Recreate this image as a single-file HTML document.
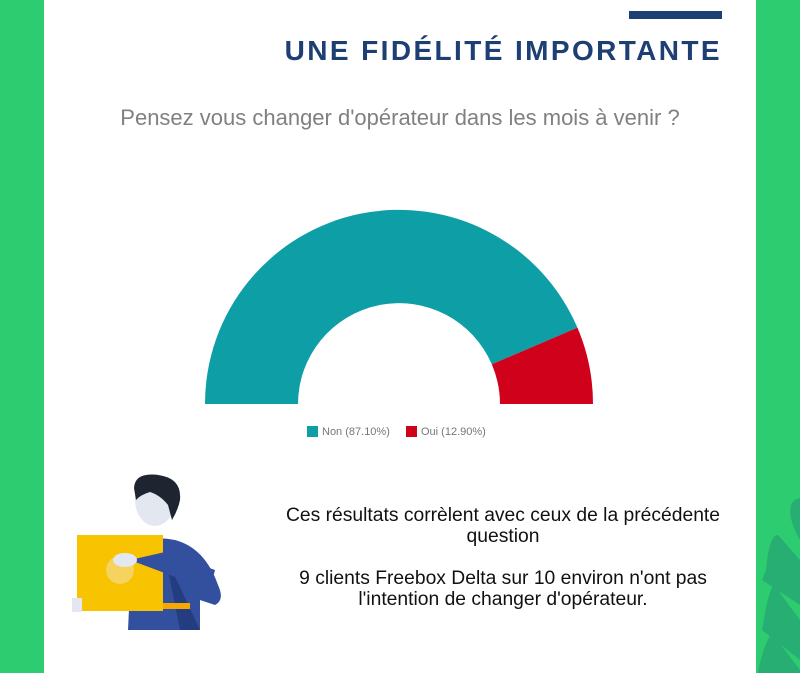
<!DOCTYPE html>
<html><head><meta charset="utf-8"><style>
body{margin:0;width:800px;height:673px;overflow:hidden;background:#fff;font-family:"Liberation Sans",sans-serif;position:relative}
.abs{position:absolute}
</style></head><body>
<div class="abs" style="left:0;top:0;width:44px;height:673px;background:#2ecc71"></div>
<div class="abs" style="left:756px;top:0;width:44px;height:673px;background:#2ecc71"></div>
<svg class="abs" style="left:756px;top:480px" width="44" height="193">
<path d="M44 18 C30 20 32 40 44 60Z M44 80 L22 55 C15 55 12 70 10 90 L6 100 L44 125Z M44 140 L18 105 C12 110 8 140 6 150 L44 180Z M44 190 L16 153 C10 160 4 180 2 193 L44 193Z" fill="#27ae72"/>
</svg>
<div class="abs" style="left:629px;top:11px;width:93px;height:8px;background:#1d3f73"></div>
<div class="abs" style="right:78px;top:35px;font-size:28px;font-weight:bold;color:#1d3f73;letter-spacing:2.4px;white-space:nowrap">UNE FIDÉLITÉ IMPORTANTE</div>
<div class="abs" style="left:0;width:800px;top:105px;text-align:center;font-size:22px;color:#808080">Pensez vous changer d'opérateur dans les mois à venir ?</div>
<svg class="abs" style="left:0;top:0" width="800" height="673">
<path d="M205 404 A194 194 0 0 1 577.4 327.6 L491.8 364.3 A101 101 0 0 0 298 404Z" fill="#0e9ea6"/>
<path d="M577.4 327.6 A194 194 0 0 1 593 404 L500 404 A101 101 0 0 0 491.8 364.3Z" fill="#d0021b"/>
<rect x="307" y="426" width="11" height="11" fill="#0e9ea6"/>
<text x="322" y="435" font-size="11" fill="#777" font-family="Liberation Sans">Non (87.10%)</text>
<rect x="406" y="426" width="11" height="11" fill="#d0021b"/>
<text x="421" y="435" font-size="11" fill="#777" font-family="Liberation Sans">Oui (12.90%)</text>
<path d="M128 630 L132 545 Q150 535 175 540 Q205 548 218 585 Q225 600 215 605 L200 600 L200 630Z" fill="#33509f"/>
<path d="M165 555 L200 630 L180 630Z" fill="#243c80"/>
<ellipse cx="155" cy="500" rx="20" ry="26" fill="#e3e7f0"/>
<path d="M134 488 Q135 472 158 475 Q182 478 180 500 Q178 510 172 520 L168 505 Q160 495 150 492 Q140 495 136 500Z" fill="#1f2530"/>
<rect x="77" y="535" width="86" height="76" fill="#f8c300"/>
<rect x="163" y="603" width="27" height="6" fill="#f7a800"/>
<circle cx="120" cy="570" r="14" fill="#f6d35e"/>
<path d="M130 560 L165 552 L215 570 L210 590 L170 575 Z" fill="#33509f"/>
<ellipse cx="125" cy="560" rx="12" ry="7" fill="#e3e7f0"/>
<rect x="72" y="598" width="10" height="14" fill="#e3e7f0"/>
</svg>
<div class="abs" style="left:270px;width:466px;top:505px;text-align:center;font-size:19.3px;line-height:21px;color:#111">Ces résultats corrèlent avec ceux de la précédente question<br><br>9 clients Freebox Delta sur 10 environ n'ont pas l'intention de changer d'opérateur.</div>
</body></html>
